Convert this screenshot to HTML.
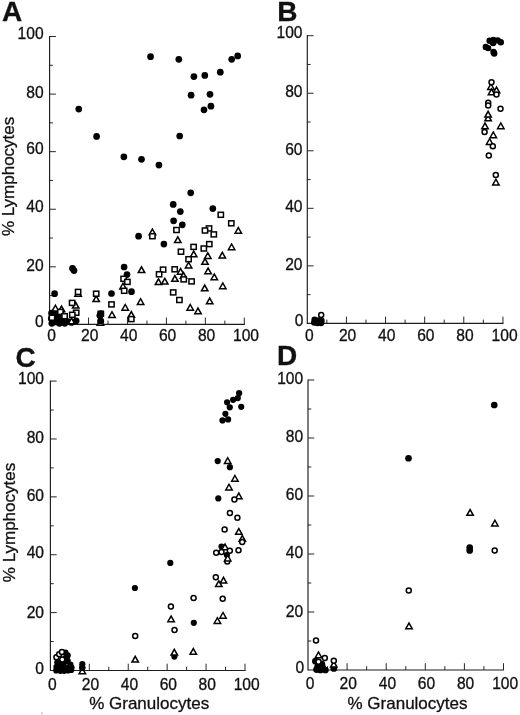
<!DOCTYPE html>
<html><head><meta charset="utf-8"><title>Figure</title>
<style>
html,body{margin:0;padding:0;background:#fff;}
svg{display:block;font-family:"Liberation Sans",sans-serif;fill:#111;}
text{stroke:#111;stroke-width:0.3px;}
</style></head><body>
<svg width="520" height="715" viewBox="0 0 520 715">
<rect width="520" height="715" fill="#fff"/>
<line x1="49.60" y1="35.92" x2="49.60" y2="324.97" stroke="#1c1c1c" stroke-width="1.15"/>
<line x1="49.60" y1="324.40" x2="244.88" y2="324.40" stroke="#1c1c1c" stroke-width="1.15"/>
<text x="43.60" y="327.30" font-size="15.6" text-anchor="end" font-weight="normal" >0</text>
<text x="51.60" y="341.40" font-size="15.6" text-anchor="middle" font-weight="normal" >0</text>
<line x1="49.60" y1="295.61" x2="52.90" y2="295.61" stroke="#1c1c1c" stroke-width="0.95"/>
<line x1="69.07" y1="324.40" x2="69.07" y2="320.60" stroke="#1c1c1c" stroke-width="0.95"/>
<line x1="49.60" y1="266.82" x2="55.90" y2="266.82" stroke="#1c1c1c" stroke-width="0.95"/>
<line x1="88.54" y1="324.40" x2="88.54" y2="317.60" stroke="#1c1c1c" stroke-width="0.95"/>
<text x="43.60" y="271.02" font-size="15.6" text-anchor="end" font-weight="normal" >20</text>
<text x="89.74" y="341.40" font-size="15.6" text-anchor="middle" font-weight="normal" >20</text>
<line x1="49.60" y1="238.03" x2="52.90" y2="238.03" stroke="#1c1c1c" stroke-width="0.95"/>
<line x1="108.01" y1="324.40" x2="108.01" y2="320.60" stroke="#1c1c1c" stroke-width="0.95"/>
<line x1="49.60" y1="209.24" x2="55.90" y2="209.24" stroke="#1c1c1c" stroke-width="0.95"/>
<line x1="127.48" y1="324.40" x2="127.48" y2="317.60" stroke="#1c1c1c" stroke-width="0.95"/>
<text x="43.60" y="212.04" font-size="15.6" text-anchor="end" font-weight="normal" >40</text>
<text x="128.68" y="341.40" font-size="15.6" text-anchor="middle" font-weight="normal" >40</text>
<line x1="49.60" y1="180.45" x2="52.90" y2="180.45" stroke="#1c1c1c" stroke-width="0.95"/>
<line x1="146.95" y1="324.40" x2="146.95" y2="320.60" stroke="#1c1c1c" stroke-width="0.95"/>
<line x1="49.60" y1="151.66" x2="55.90" y2="151.66" stroke="#1c1c1c" stroke-width="0.95"/>
<line x1="166.42" y1="324.40" x2="166.42" y2="317.60" stroke="#1c1c1c" stroke-width="0.95"/>
<text x="43.60" y="153.86" font-size="15.6" text-anchor="end" font-weight="normal" >60</text>
<text x="167.62" y="341.40" font-size="15.6" text-anchor="middle" font-weight="normal" >60</text>
<line x1="49.60" y1="122.87" x2="52.90" y2="122.87" stroke="#1c1c1c" stroke-width="0.95"/>
<line x1="185.89" y1="324.40" x2="185.89" y2="320.60" stroke="#1c1c1c" stroke-width="0.95"/>
<line x1="49.60" y1="94.08" x2="55.90" y2="94.08" stroke="#1c1c1c" stroke-width="0.95"/>
<line x1="205.36" y1="324.40" x2="205.36" y2="317.60" stroke="#1c1c1c" stroke-width="0.95"/>
<text x="43.60" y="97.88" font-size="15.6" text-anchor="end" font-weight="normal" >80</text>
<text x="206.56" y="341.40" font-size="15.6" text-anchor="middle" font-weight="normal" >80</text>
<line x1="49.60" y1="65.29" x2="52.90" y2="65.29" stroke="#1c1c1c" stroke-width="0.95"/>
<line x1="224.83" y1="324.40" x2="224.83" y2="320.60" stroke="#1c1c1c" stroke-width="0.95"/>
<line x1="49.60" y1="36.50" x2="55.90" y2="36.50" stroke="#1c1c1c" stroke-width="0.95"/>
<line x1="244.30" y1="324.40" x2="244.30" y2="317.60" stroke="#1c1c1c" stroke-width="0.95"/>
<text x="43.60" y="38.80" font-size="15.6" text-anchor="end" font-weight="normal" >100</text>
<text x="246.00" y="341.40" font-size="15.6" text-anchor="middle" font-weight="normal" >100</text>
<line x1="307.30" y1="35.12" x2="307.30" y2="323.97" stroke="#1c1c1c" stroke-width="1.15"/>
<line x1="307.30" y1="323.40" x2="503.47" y2="323.40" stroke="#1c1c1c" stroke-width="1.15"/>
<text x="303.50" y="326.10" font-size="15.6" text-anchor="end" font-weight="normal" >0</text>
<text x="309.30" y="341.00" font-size="15.6" text-anchor="middle" font-weight="normal" >0</text>
<line x1="307.30" y1="294.63" x2="310.60" y2="294.63" stroke="#1c1c1c" stroke-width="0.95"/>
<line x1="326.86" y1="323.40" x2="326.86" y2="319.60" stroke="#1c1c1c" stroke-width="0.95"/>
<line x1="307.30" y1="265.86" x2="313.60" y2="265.86" stroke="#1c1c1c" stroke-width="0.95"/>
<line x1="346.42" y1="323.40" x2="346.42" y2="316.60" stroke="#1c1c1c" stroke-width="0.95"/>
<text x="302.50" y="270.46" font-size="15.6" text-anchor="end" font-weight="normal" >20</text>
<text x="347.62" y="341.00" font-size="15.6" text-anchor="middle" font-weight="normal" >20</text>
<line x1="307.30" y1="237.09" x2="310.60" y2="237.09" stroke="#1c1c1c" stroke-width="0.95"/>
<line x1="365.98" y1="323.40" x2="365.98" y2="319.60" stroke="#1c1c1c" stroke-width="0.95"/>
<line x1="307.30" y1="208.32" x2="313.60" y2="208.32" stroke="#1c1c1c" stroke-width="0.95"/>
<line x1="385.54" y1="323.40" x2="385.54" y2="316.60" stroke="#1c1c1c" stroke-width="0.95"/>
<text x="302.50" y="212.22" font-size="15.6" text-anchor="end" font-weight="normal" >40</text>
<text x="386.74" y="341.00" font-size="15.6" text-anchor="middle" font-weight="normal" >40</text>
<line x1="307.30" y1="179.55" x2="310.60" y2="179.55" stroke="#1c1c1c" stroke-width="0.95"/>
<line x1="405.10" y1="323.40" x2="405.10" y2="319.60" stroke="#1c1c1c" stroke-width="0.95"/>
<line x1="307.30" y1="150.78" x2="313.60" y2="150.78" stroke="#1c1c1c" stroke-width="0.95"/>
<line x1="424.66" y1="323.40" x2="424.66" y2="316.60" stroke="#1c1c1c" stroke-width="0.95"/>
<text x="302.50" y="154.68" font-size="15.6" text-anchor="end" font-weight="normal" >60</text>
<text x="425.86" y="341.00" font-size="15.6" text-anchor="middle" font-weight="normal" >60</text>
<line x1="307.30" y1="122.01" x2="310.60" y2="122.01" stroke="#1c1c1c" stroke-width="0.95"/>
<line x1="444.22" y1="323.40" x2="444.22" y2="319.60" stroke="#1c1c1c" stroke-width="0.95"/>
<line x1="307.30" y1="93.24" x2="313.60" y2="93.24" stroke="#1c1c1c" stroke-width="0.95"/>
<line x1="463.78" y1="323.40" x2="463.78" y2="316.60" stroke="#1c1c1c" stroke-width="0.95"/>
<text x="302.50" y="97.44" font-size="15.6" text-anchor="end" font-weight="normal" >80</text>
<text x="464.98" y="341.00" font-size="15.6" text-anchor="middle" font-weight="normal" >80</text>
<line x1="307.30" y1="64.47" x2="310.60" y2="64.47" stroke="#1c1c1c" stroke-width="0.95"/>
<line x1="483.34" y1="323.40" x2="483.34" y2="319.60" stroke="#1c1c1c" stroke-width="0.95"/>
<line x1="307.30" y1="35.70" x2="313.60" y2="35.70" stroke="#1c1c1c" stroke-width="0.95"/>
<line x1="502.90" y1="323.40" x2="502.90" y2="316.60" stroke="#1c1c1c" stroke-width="0.95"/>
<text x="302.50" y="38.10" font-size="15.6" text-anchor="end" font-weight="normal" >100</text>
<text x="504.60" y="341.00" font-size="15.6" text-anchor="middle" font-weight="normal" >100</text>
<line x1="50.40" y1="380.53" x2="50.40" y2="671.08" stroke="#1c1c1c" stroke-width="1.15"/>
<line x1="50.40" y1="670.50" x2="245.57" y2="670.50" stroke="#1c1c1c" stroke-width="1.15"/>
<text x="44.00" y="673.90" font-size="15.6" text-anchor="end" font-weight="normal" >0</text>
<text x="52.40" y="690.00" font-size="15.6" text-anchor="middle" font-weight="normal" >0</text>
<line x1="50.40" y1="641.56" x2="53.70" y2="641.56" stroke="#1c1c1c" stroke-width="0.95"/>
<line x1="69.86" y1="670.50" x2="69.86" y2="666.70" stroke="#1c1c1c" stroke-width="0.95"/>
<line x1="50.40" y1="612.62" x2="56.70" y2="612.62" stroke="#1c1c1c" stroke-width="0.95"/>
<line x1="89.32" y1="670.50" x2="89.32" y2="663.70" stroke="#1c1c1c" stroke-width="0.95"/>
<text x="44.00" y="618.02" font-size="15.6" text-anchor="end" font-weight="normal" >20</text>
<text x="90.52" y="690.00" font-size="15.6" text-anchor="middle" font-weight="normal" >20</text>
<line x1="50.40" y1="583.68" x2="53.70" y2="583.68" stroke="#1c1c1c" stroke-width="0.95"/>
<line x1="108.78" y1="670.50" x2="108.78" y2="666.70" stroke="#1c1c1c" stroke-width="0.95"/>
<line x1="50.40" y1="554.74" x2="56.70" y2="554.74" stroke="#1c1c1c" stroke-width="0.95"/>
<line x1="128.24" y1="670.50" x2="128.24" y2="663.70" stroke="#1c1c1c" stroke-width="0.95"/>
<text x="44.00" y="558.44" font-size="15.6" text-anchor="end" font-weight="normal" >40</text>
<text x="129.44" y="690.00" font-size="15.6" text-anchor="middle" font-weight="normal" >40</text>
<line x1="50.40" y1="525.80" x2="53.70" y2="525.80" stroke="#1c1c1c" stroke-width="0.95"/>
<line x1="147.70" y1="670.50" x2="147.70" y2="666.70" stroke="#1c1c1c" stroke-width="0.95"/>
<line x1="50.40" y1="496.86" x2="56.70" y2="496.86" stroke="#1c1c1c" stroke-width="0.95"/>
<line x1="167.16" y1="670.50" x2="167.16" y2="663.70" stroke="#1c1c1c" stroke-width="0.95"/>
<text x="44.00" y="500.66" font-size="15.6" text-anchor="end" font-weight="normal" >60</text>
<text x="168.36" y="690.00" font-size="15.6" text-anchor="middle" font-weight="normal" >60</text>
<line x1="50.40" y1="467.92" x2="53.70" y2="467.92" stroke="#1c1c1c" stroke-width="0.95"/>
<line x1="186.62" y1="670.50" x2="186.62" y2="666.70" stroke="#1c1c1c" stroke-width="0.95"/>
<line x1="50.40" y1="438.98" x2="56.70" y2="438.98" stroke="#1c1c1c" stroke-width="0.95"/>
<line x1="206.08" y1="670.50" x2="206.08" y2="663.70" stroke="#1c1c1c" stroke-width="0.95"/>
<text x="44.00" y="443.18" font-size="15.6" text-anchor="end" font-weight="normal" >80</text>
<text x="207.28" y="690.00" font-size="15.6" text-anchor="middle" font-weight="normal" >80</text>
<line x1="50.40" y1="410.04" x2="53.70" y2="410.04" stroke="#1c1c1c" stroke-width="0.95"/>
<line x1="225.54" y1="670.50" x2="225.54" y2="666.70" stroke="#1c1c1c" stroke-width="0.95"/>
<line x1="50.40" y1="381.10" x2="56.70" y2="381.10" stroke="#1c1c1c" stroke-width="0.95"/>
<line x1="245.00" y1="670.50" x2="245.00" y2="663.70" stroke="#1c1c1c" stroke-width="0.95"/>
<text x="44.00" y="383.50" font-size="15.6" text-anchor="end" font-weight="normal" >100</text>
<text x="246.70" y="690.00" font-size="15.6" text-anchor="middle" font-weight="normal" >100</text>
<line x1="308.00" y1="379.43" x2="308.00" y2="670.58" stroke="#1c1c1c" stroke-width="1.15"/>
<line x1="308.00" y1="670.00" x2="504.07" y2="670.00" stroke="#1c1c1c" stroke-width="1.15"/>
<text x="304.20" y="673.20" font-size="15.6" text-anchor="end" font-weight="normal" >0</text>
<text x="310.00" y="689.40" font-size="15.6" text-anchor="middle" font-weight="normal" >0</text>
<line x1="308.00" y1="641.00" x2="311.30" y2="641.00" stroke="#1c1c1c" stroke-width="0.95"/>
<line x1="327.55" y1="670.00" x2="327.55" y2="666.20" stroke="#1c1c1c" stroke-width="0.95"/>
<line x1="308.00" y1="612.00" x2="314.30" y2="612.00" stroke="#1c1c1c" stroke-width="0.95"/>
<line x1="347.10" y1="670.00" x2="347.10" y2="663.20" stroke="#1c1c1c" stroke-width="0.95"/>
<text x="303.20" y="617.40" font-size="15.6" text-anchor="end" font-weight="normal" >20</text>
<text x="348.30" y="689.40" font-size="15.6" text-anchor="middle" font-weight="normal" >20</text>
<line x1="308.00" y1="583.00" x2="311.30" y2="583.00" stroke="#1c1c1c" stroke-width="0.95"/>
<line x1="366.65" y1="670.00" x2="366.65" y2="666.20" stroke="#1c1c1c" stroke-width="0.95"/>
<line x1="308.00" y1="554.00" x2="314.30" y2="554.00" stroke="#1c1c1c" stroke-width="0.95"/>
<line x1="386.20" y1="670.00" x2="386.20" y2="663.20" stroke="#1c1c1c" stroke-width="0.95"/>
<text x="303.20" y="557.90" font-size="15.6" text-anchor="end" font-weight="normal" >40</text>
<text x="387.40" y="689.40" font-size="15.6" text-anchor="middle" font-weight="normal" >40</text>
<line x1="308.00" y1="525.00" x2="311.30" y2="525.00" stroke="#1c1c1c" stroke-width="0.95"/>
<line x1="405.75" y1="670.00" x2="405.75" y2="666.20" stroke="#1c1c1c" stroke-width="0.95"/>
<line x1="308.00" y1="496.00" x2="314.30" y2="496.00" stroke="#1c1c1c" stroke-width="0.95"/>
<line x1="425.30" y1="670.00" x2="425.30" y2="663.20" stroke="#1c1c1c" stroke-width="0.95"/>
<text x="303.20" y="500.20" font-size="15.6" text-anchor="end" font-weight="normal" >60</text>
<text x="426.50" y="689.40" font-size="15.6" text-anchor="middle" font-weight="normal" >60</text>
<line x1="308.00" y1="467.00" x2="311.30" y2="467.00" stroke="#1c1c1c" stroke-width="0.95"/>
<line x1="444.85" y1="670.00" x2="444.85" y2="666.20" stroke="#1c1c1c" stroke-width="0.95"/>
<line x1="308.00" y1="438.00" x2="314.30" y2="438.00" stroke="#1c1c1c" stroke-width="0.95"/>
<line x1="464.40" y1="670.00" x2="464.40" y2="663.20" stroke="#1c1c1c" stroke-width="0.95"/>
<text x="303.20" y="442.30" font-size="15.6" text-anchor="end" font-weight="normal" >80</text>
<text x="465.60" y="689.40" font-size="15.6" text-anchor="middle" font-weight="normal" >80</text>
<line x1="308.00" y1="409.00" x2="311.30" y2="409.00" stroke="#1c1c1c" stroke-width="0.95"/>
<line x1="483.95" y1="670.00" x2="483.95" y2="666.20" stroke="#1c1c1c" stroke-width="0.95"/>
<line x1="308.00" y1="380.00" x2="314.30" y2="380.00" stroke="#1c1c1c" stroke-width="0.95"/>
<line x1="503.50" y1="670.00" x2="503.50" y2="663.20" stroke="#1c1c1c" stroke-width="0.95"/>
<text x="303.20" y="383.90" font-size="15.6" text-anchor="end" font-weight="normal" >100</text>
<text x="505.20" y="689.40" font-size="15.6" text-anchor="middle" font-weight="normal" >100</text>
<text x="2.00" y="21.40" font-size="28" text-anchor="start" font-weight="bold" >A</text>
<text x="277.30" y="21.00" font-size="28" text-anchor="start" font-weight="bold" >B</text>
<text x="15.40" y="366.50" font-size="28" text-anchor="start" font-weight="bold" >C</text>
<text x="277.00" y="365.20" font-size="28" text-anchor="start" font-weight="bold" >D</text>
<text transform="translate(13.8,176.4) rotate(-90)" font-size="17" text-anchor="middle">% Lymphocytes</text>
<text transform="translate(14.6,522.5) rotate(-90)" font-size="17" text-anchor="middle">% Lymphocytes</text>
<text x="149.20" y="709.30" font-size="17" text-anchor="middle" font-weight="normal" >% Granulocytes</text>
<text x="407.50" y="709.20" font-size="17" text-anchor="middle" font-weight="normal" >% Granulocytes</text>
<circle cx="78.75" cy="109.10" r="3.35" fill="#000"/>
<circle cx="150.55" cy="56.70" r="3.35" fill="#000"/>
<circle cx="178.80" cy="59.30" r="3.35" fill="#000"/>
<circle cx="231.70" cy="59.30" r="3.35" fill="#000"/>
<circle cx="237.70" cy="55.90" r="3.35" fill="#000"/>
<circle cx="220.30" cy="72.20" r="3.35" fill="#000"/>
<circle cx="193.90" cy="76.60" r="3.35" fill="#000"/>
<circle cx="204.80" cy="75.40" r="3.35" fill="#000"/>
<circle cx="191.10" cy="95.20" r="3.35" fill="#000"/>
<circle cx="210.00" cy="94.30" r="3.35" fill="#000"/>
<circle cx="210.90" cy="106.20" r="3.35" fill="#000"/>
<circle cx="204.00" cy="109.80" r="3.35" fill="#000"/>
<circle cx="96.60" cy="136.40" r="3.35" fill="#000"/>
<circle cx="123.85" cy="156.80" r="3.35" fill="#000"/>
<circle cx="141.50" cy="159.30" r="3.35" fill="#000"/>
<circle cx="158.90" cy="165.10" r="3.35" fill="#000"/>
<circle cx="179.70" cy="136.00" r="3.35" fill="#000"/>
<circle cx="190.70" cy="192.80" r="3.35" fill="#000"/>
<circle cx="173.20" cy="204.40" r="3.35" fill="#000"/>
<circle cx="72.50" cy="268.30" r="3.35" fill="#000"/>
<circle cx="74.00" cy="270.60" r="3.35" fill="#000"/>
<circle cx="173.60" cy="220.80" r="3.35" fill="#000"/>
<circle cx="138.60" cy="236.20" r="3.35" fill="#000"/>
<circle cx="163.90" cy="244.10" r="3.35" fill="#000"/>
<circle cx="124.10" cy="267.00" r="3.35" fill="#000"/>
<circle cx="127.00" cy="274.60" r="3.35" fill="#000"/>
<circle cx="180.30" cy="211.60" r="3.35" fill="#000"/>
<circle cx="182.30" cy="224.80" r="3.35" fill="#000"/>
<circle cx="212.80" cy="208.60" r="3.35" fill="#000"/>
<circle cx="54.60" cy="293.70" r="3.35" fill="#000"/>
<circle cx="111.50" cy="293.50" r="3.35" fill="#000"/>
<circle cx="131.50" cy="291.70" r="3.35" fill="#000"/>
<circle cx="100.00" cy="315.40" r="3.35" fill="#000"/>
<circle cx="100.80" cy="321.20" r="3.35" fill="#000"/>
<circle cx="76.20" cy="320.80" r="3.35" fill="#000"/>
<circle cx="51.50" cy="313.00" r="3.35" fill="#000"/>
<circle cx="51.30" cy="318.50" r="3.35" fill="#000"/>
<circle cx="51.80" cy="323.30" r="3.35" fill="#000"/>
<circle cx="55.00" cy="316.00" r="3.35" fill="#000"/>
<circle cx="55.50" cy="322.00" r="3.35" fill="#000"/>
<circle cx="58.50" cy="318.00" r="3.35" fill="#000"/>
<circle cx="59.50" cy="323.30" r="3.35" fill="#000"/>
<circle cx="62.00" cy="320.00" r="3.35" fill="#000"/>
<circle cx="64.80" cy="323.30" r="3.35" fill="#000"/>
<circle cx="57.00" cy="312.50" r="3.35" fill="#000"/>
<circle cx="61.50" cy="315.50" r="3.35" fill="#000"/>
<circle cx="68.00" cy="321.50" r="3.35" fill="#000"/>
<circle cx="71.50" cy="322.50" r="3.35" fill="#000"/>
<path d="M149.18 234.75 L155.62 234.75 L152.40 229.03 Z" fill="#fff" stroke="#000" stroke-width="1.5" stroke-linejoin="miter"/>
<path d="M138.28 272.55 L144.72 272.55 L141.50 266.83 Z" fill="#fff" stroke="#000" stroke-width="1.5" stroke-linejoin="miter"/>
<path d="M155.28 284.55 L161.72 284.55 L158.50 278.83 Z" fill="#fff" stroke="#000" stroke-width="1.5" stroke-linejoin="miter"/>
<path d="M161.58 284.05 L168.02 284.05 L164.80 278.33 Z" fill="#fff" stroke="#000" stroke-width="1.5" stroke-linejoin="miter"/>
<path d="M171.68 281.35 L178.12 281.35 L174.90 275.63 Z" fill="#fff" stroke="#000" stroke-width="1.5" stroke-linejoin="miter"/>
<path d="M174.58 242.55 L181.02 242.55 L177.80 236.83 Z" fill="#fff" stroke="#000" stroke-width="1.5" stroke-linejoin="miter"/>
<path d="M228.38 249.65 L234.82 249.65 L231.60 243.93 Z" fill="#fff" stroke="#000" stroke-width="1.5" stroke-linejoin="miter"/>
<path d="M219.08 258.05 L225.52 258.05 L222.30 252.33 Z" fill="#fff" stroke="#000" stroke-width="1.5" stroke-linejoin="miter"/>
<path d="M190.48 256.85 L196.92 256.85 L193.70 251.13 Z" fill="#fff" stroke="#000" stroke-width="1.5" stroke-linejoin="miter"/>
<path d="M204.58 258.45 L211.02 258.45 L207.80 252.73 Z" fill="#fff" stroke="#000" stroke-width="1.5" stroke-linejoin="miter"/>
<path d="M201.78 264.35 L208.22 264.35 L205.00 258.63 Z" fill="#fff" stroke="#000" stroke-width="1.5" stroke-linejoin="miter"/>
<path d="M185.38 267.95 L191.82 267.95 L188.60 262.23 Z" fill="#fff" stroke="#000" stroke-width="1.5" stroke-linejoin="miter"/>
<path d="M204.88 273.75 L211.32 273.75 L208.10 268.03 Z" fill="#fff" stroke="#000" stroke-width="1.5" stroke-linejoin="miter"/>
<path d="M177.38 274.25 L183.82 274.25 L180.60 268.53 Z" fill="#fff" stroke="#000" stroke-width="1.5" stroke-linejoin="miter"/>
<path d="M180.28 278.25 L186.72 278.25 L183.50 272.53 Z" fill="#fff" stroke="#000" stroke-width="1.5" stroke-linejoin="miter"/>
<path d="M211.08 279.75 L217.52 279.75 L214.30 274.03 Z" fill="#fff" stroke="#000" stroke-width="1.5" stroke-linejoin="miter"/>
<path d="M235.08 233.25 L241.52 233.25 L238.30 227.53 Z" fill="#fff" stroke="#000" stroke-width="1.5" stroke-linejoin="miter"/>
<path d="M219.58 288.65 L226.02 288.65 L222.80 282.93 Z" fill="#fff" stroke="#000" stroke-width="1.5" stroke-linejoin="miter"/>
<path d="M201.48 290.85 L207.92 290.85 L204.70 285.13 Z" fill="#fff" stroke="#000" stroke-width="1.5" stroke-linejoin="miter"/>
<path d="M206.48 303.85 L212.92 303.85 L209.70 298.13 Z" fill="#fff" stroke="#000" stroke-width="1.5" stroke-linejoin="miter"/>
<path d="M186.98 310.15 L193.42 310.15 L190.20 304.43 Z" fill="#fff" stroke="#000" stroke-width="1.5" stroke-linejoin="miter"/>
<path d="M194.78 313.85 L201.22 313.85 L198.00 308.13 Z" fill="#fff" stroke="#000" stroke-width="1.5" stroke-linejoin="miter"/>
<path d="M74.88 296.35 L81.32 296.35 L78.10 290.63 Z" fill="#fff" stroke="#000" stroke-width="1.5" stroke-linejoin="miter"/>
<path d="M72.48 308.05 L78.92 308.05 L75.70 302.33 Z" fill="#fff" stroke="#000" stroke-width="1.5" stroke-linejoin="miter"/>
<path d="M68.28 323.85 L74.72 323.85 L71.50 318.13 Z" fill="#fff" stroke="#000" stroke-width="1.5" stroke-linejoin="miter"/>
<path d="M52.18 310.95 L58.62 310.95 L55.40 305.23 Z" fill="#fff" stroke="#000" stroke-width="1.5" stroke-linejoin="miter"/>
<path d="M58.28 311.75 L64.72 311.75 L61.50 306.03 Z" fill="#fff" stroke="#000" stroke-width="1.5" stroke-linejoin="miter"/>
<path d="M92.98 301.55 L99.42 301.55 L96.20 295.83 Z" fill="#fff" stroke="#000" stroke-width="1.5" stroke-linejoin="miter"/>
<path d="M108.78 317.45 L115.22 317.45 L112.00 311.73 Z" fill="#fff" stroke="#000" stroke-width="1.5" stroke-linejoin="miter"/>
<path d="M97.18 325.15 L103.62 325.15 L100.40 319.43 Z" fill="#fff" stroke="#000" stroke-width="1.5" stroke-linejoin="miter"/>
<path d="M119.78 288.95 L126.22 288.95 L123.00 283.23 Z" fill="#fff" stroke="#000" stroke-width="1.5" stroke-linejoin="miter"/>
<path d="M137.38 304.45 L143.82 304.45 L140.60 298.73 Z" fill="#fff" stroke="#000" stroke-width="1.5" stroke-linejoin="miter"/>
<path d="M121.98 310.15 L128.42 310.15 L125.20 304.43 Z" fill="#fff" stroke="#000" stroke-width="1.5" stroke-linejoin="miter"/>
<path d="M128.08 317.35 L134.52 317.35 L131.30 311.63 Z" fill="#fff" stroke="#000" stroke-width="1.5" stroke-linejoin="miter"/>
<rect x="149.75" y="233.70" width="5.3" height="5" fill="#fff" stroke="#000" stroke-width="1.5"/>
<rect x="120.95" y="276.30" width="5.3" height="5" fill="#fff" stroke="#000" stroke-width="1.5"/>
<rect x="124.75" y="279.40" width="5.3" height="5" fill="#fff" stroke="#000" stroke-width="1.5"/>
<rect x="160.45" y="267.10" width="5.3" height="5" fill="#fff" stroke="#000" stroke-width="1.5"/>
<rect x="156.45" y="271.80" width="5.3" height="5" fill="#fff" stroke="#000" stroke-width="1.5"/>
<rect x="172.05" y="266.80" width="5.3" height="5" fill="#fff" stroke="#000" stroke-width="1.5"/>
<rect x="218.15" y="212.30" width="5.3" height="5" fill="#fff" stroke="#000" stroke-width="1.5"/>
<rect x="228.65" y="220.80" width="5.3" height="5" fill="#fff" stroke="#000" stroke-width="1.5"/>
<rect x="173.85" y="227.50" width="5.3" height="5" fill="#fff" stroke="#000" stroke-width="1.5"/>
<rect x="206.35" y="225.90" width="5.3" height="5" fill="#fff" stroke="#000" stroke-width="1.5"/>
<rect x="202.35" y="228.00" width="5.3" height="5" fill="#fff" stroke="#000" stroke-width="1.5"/>
<rect x="211.15" y="231.90" width="5.3" height="5" fill="#fff" stroke="#000" stroke-width="1.5"/>
<rect x="206.65" y="241.60" width="5.3" height="5" fill="#fff" stroke="#000" stroke-width="1.5"/>
<rect x="190.95" y="244.40" width="5.3" height="5" fill="#fff" stroke="#000" stroke-width="1.5"/>
<rect x="201.15" y="246.00" width="5.3" height="5" fill="#fff" stroke="#000" stroke-width="1.5"/>
<rect x="178.35" y="249.20" width="5.3" height="5" fill="#fff" stroke="#000" stroke-width="1.5"/>
<rect x="185.95" y="256.70" width="5.3" height="5" fill="#fff" stroke="#000" stroke-width="1.5"/>
<rect x="181.05" y="276.90" width="5.3" height="5" fill="#fff" stroke="#000" stroke-width="1.5"/>
<rect x="188.95" y="278.90" width="5.3" height="5" fill="#fff" stroke="#000" stroke-width="1.5"/>
<rect x="170.55" y="289.90" width="5.3" height="5" fill="#fff" stroke="#000" stroke-width="1.5"/>
<rect x="176.75" y="297.50" width="5.3" height="5" fill="#fff" stroke="#000" stroke-width="1.5"/>
<rect x="75.45" y="289.40" width="5.3" height="5" fill="#fff" stroke="#000" stroke-width="1.5"/>
<rect x="69.45" y="300.40" width="5.3" height="5" fill="#fff" stroke="#000" stroke-width="1.5"/>
<rect x="73.55" y="310.20" width="5.3" height="5" fill="#fff" stroke="#000" stroke-width="1.5"/>
<rect x="69.65" y="312.30" width="5.3" height="5" fill="#fff" stroke="#000" stroke-width="1.5"/>
<rect x="57.75" y="309.40" width="5.3" height="5" fill="#fff" stroke="#000" stroke-width="1.5"/>
<rect x="61.95" y="313.70" width="5.3" height="5" fill="#fff" stroke="#000" stroke-width="1.5"/>
<rect x="49.35" y="315.20" width="5.3" height="5" fill="#fff" stroke="#000" stroke-width="1.5"/>
<rect x="93.55" y="291.20" width="5.3" height="5" fill="#fff" stroke="#000" stroke-width="1.5"/>
<rect x="108.85" y="301.90" width="5.3" height="5" fill="#fff" stroke="#000" stroke-width="1.5"/>
<rect x="98.15" y="311.30" width="5.3" height="5" fill="#fff" stroke="#000" stroke-width="1.5"/>
<rect x="121.55" y="288.30" width="5.3" height="5" fill="#fff" stroke="#000" stroke-width="1.5"/>
<rect x="128.65" y="316.60" width="5.3" height="5" fill="#fff" stroke="#000" stroke-width="1.5"/>
<circle cx="100.00" cy="315.60" r="3.35" fill="#000"/>
<circle cx="100.80" cy="313.60" r="3.35" fill="#000"/>
<circle cx="100.60" cy="321.00" r="3.35" fill="#000"/>
<circle cx="489.60" cy="40.80" r="3.2" fill="#000"/>
<circle cx="493.50" cy="40.00" r="3.2" fill="#000"/>
<circle cx="497.70" cy="40.40" r="3.2" fill="#000"/>
<circle cx="500.80" cy="42.30" r="3.2" fill="#000"/>
<circle cx="493.10" cy="43.10" r="3.2" fill="#000"/>
<circle cx="485.80" cy="46.90" r="3.2" fill="#000"/>
<circle cx="488.10" cy="48.10" r="3.2" fill="#000"/>
<circle cx="493.50" cy="51.90" r="3.2" fill="#000"/>
<circle cx="494.20" cy="53.50" r="3.2" fill="#000"/>
<circle cx="314.60" cy="319.80" r="3.2" fill="#000"/>
<circle cx="318.50" cy="320.50" r="3.2" fill="#000"/>
<circle cx="321.50" cy="320.80" r="3.2" fill="#000"/>
<circle cx="314.20" cy="322.60" r="3.2" fill="#000"/>
<circle cx="317.50" cy="323.00" r="3.2" fill="#000"/>
<circle cx="321.00" cy="323.00" r="3.2" fill="#000"/>
<path d="M487.68 89.45 L494.12 89.45 L490.90 83.73 Z" fill="#fff" stroke="#000" stroke-width="1.5" stroke-linejoin="miter"/>
<path d="M493.28 92.85 L499.72 92.85 L496.50 87.13 Z" fill="#fff" stroke="#000" stroke-width="1.5" stroke-linejoin="miter"/>
<path d="M488.28 94.75 L494.72 94.75 L491.50 89.03 Z" fill="#fff" stroke="#000" stroke-width="1.5" stroke-linejoin="miter"/>
<path d="M484.88 120.85 L491.32 120.85 L488.10 115.13 Z" fill="#fff" stroke="#000" stroke-width="1.5" stroke-linejoin="miter"/>
<path d="M484.88 117.05 L491.32 117.05 L488.10 111.33 Z" fill="#fff" stroke="#000" stroke-width="1.5" stroke-linejoin="miter"/>
<path d="M481.78 128.75 L488.22 128.75 L485.00 123.03 Z" fill="#fff" stroke="#000" stroke-width="1.5" stroke-linejoin="miter"/>
<path d="M497.58 128.65 L504.02 128.65 L500.80 122.93 Z" fill="#fff" stroke="#000" stroke-width="1.5" stroke-linejoin="miter"/>
<path d="M490.08 137.65 L496.52 137.65 L493.30 131.93 Z" fill="#fff" stroke="#000" stroke-width="1.5" stroke-linejoin="miter"/>
<path d="M486.38 144.45 L492.82 144.45 L489.60 138.73 Z" fill="#fff" stroke="#000" stroke-width="1.5" stroke-linejoin="miter"/>
<path d="M492.68 184.95 L499.12 184.95 L495.90 179.23 Z" fill="#fff" stroke="#000" stroke-width="1.5" stroke-linejoin="miter"/>
<circle cx="491.50" cy="82.30" r="2.5" fill="#fff" stroke="#000" stroke-width="1.5"/>
<circle cx="496.50" cy="94.60" r="2.5" fill="#fff" stroke="#000" stroke-width="1.5"/>
<circle cx="488.20" cy="102.70" r="2.5" fill="#fff" stroke="#000" stroke-width="1.5"/>
<circle cx="488.20" cy="105.40" r="2.5" fill="#fff" stroke="#000" stroke-width="1.5"/>
<circle cx="500.50" cy="108.80" r="2.5" fill="#fff" stroke="#000" stroke-width="1.5"/>
<circle cx="484.60" cy="131.90" r="2.5" fill="#fff" stroke="#000" stroke-width="1.5"/>
<circle cx="492.80" cy="146.20" r="2.5" fill="#fff" stroke="#000" stroke-width="1.5"/>
<circle cx="488.80" cy="155.60" r="2.5" fill="#fff" stroke="#000" stroke-width="1.5"/>
<circle cx="495.80" cy="175.00" r="2.5" fill="#fff" stroke="#000" stroke-width="1.5"/>
<circle cx="321.20" cy="315.00" r="2.5" fill="#fff" stroke="#000" stroke-width="1.5"/>
<circle cx="239.10" cy="393.20" r="3.1" fill="#000"/>
<circle cx="237.80" cy="398.10" r="3.1" fill="#000"/>
<circle cx="233.10" cy="399.80" r="3.1" fill="#000"/>
<circle cx="227.10" cy="402.30" r="3.1" fill="#000"/>
<circle cx="229.80" cy="407.30" r="3.1" fill="#000"/>
<circle cx="241.20" cy="406.80" r="3.1" fill="#000"/>
<circle cx="225.40" cy="413.80" r="3.1" fill="#000"/>
<circle cx="222.50" cy="420.40" r="3.1" fill="#000"/>
<circle cx="228.10" cy="419.40" r="3.1" fill="#000"/>
<circle cx="217.70" cy="461.10" r="3.1" fill="#000"/>
<circle cx="229.90" cy="467.20" r="3.1" fill="#000"/>
<circle cx="218.30" cy="498.40" r="3.1" fill="#000"/>
<circle cx="221.50" cy="546.50" r="3.1" fill="#000"/>
<circle cx="226.90" cy="555.00" r="3.1" fill="#000"/>
<circle cx="170.30" cy="562.90" r="3.1" fill="#000"/>
<circle cx="134.90" cy="588.00" r="3.1" fill="#000"/>
<circle cx="193.80" cy="622.80" r="3.1" fill="#000"/>
<circle cx="174.40" cy="656.60" r="3.1" fill="#000"/>
<circle cx="65.40" cy="652.50" r="3.1" fill="#000"/>
<circle cx="67.70" cy="655.40" r="3.1" fill="#000"/>
<circle cx="57.30" cy="662.30" r="3.1" fill="#000"/>
<circle cx="60.40" cy="663.80" r="3.1" fill="#000"/>
<circle cx="64.20" cy="662.30" r="3.1" fill="#000"/>
<circle cx="67.70" cy="660.80" r="3.1" fill="#000"/>
<circle cx="70.40" cy="664.60" r="3.1" fill="#000"/>
<circle cx="71.50" cy="667.70" r="3.1" fill="#000"/>
<circle cx="56.50" cy="666.90" r="3.1" fill="#000"/>
<circle cx="59.60" cy="668.50" r="3.1" fill="#000"/>
<circle cx="63.50" cy="667.70" r="3.1" fill="#000"/>
<circle cx="67.30" cy="667.70" r="3.1" fill="#000"/>
<circle cx="56.20" cy="670.40" r="3.1" fill="#000"/>
<circle cx="60.40" cy="670.80" r="3.1" fill="#000"/>
<circle cx="64.20" cy="670.80" r="3.1" fill="#000"/>
<circle cx="68.10" cy="670.40" r="3.1" fill="#000"/>
<circle cx="71.20" cy="670.00" r="3.1" fill="#000"/>
<circle cx="65.40" cy="658.10" r="3.1" fill="#000"/>
<circle cx="82.30" cy="664.20" r="3.1" fill="#000"/>
<circle cx="82.30" cy="667.70" r="3.1" fill="#000"/>
<path d="M224.48 463.45 L230.92 463.45 L227.70 457.73 Z" fill="#fff" stroke="#000" stroke-width="1.5" stroke-linejoin="miter"/>
<path d="M231.68 481.15 L238.12 481.15 L234.90 475.43 Z" fill="#fff" stroke="#000" stroke-width="1.5" stroke-linejoin="miter"/>
<path d="M225.78 489.95 L232.22 489.95 L229.00 484.23 Z" fill="#fff" stroke="#000" stroke-width="1.5" stroke-linejoin="miter"/>
<path d="M235.58 498.75 L242.02 498.75 L238.80 493.03 Z" fill="#fff" stroke="#000" stroke-width="1.5" stroke-linejoin="miter"/>
<path d="M235.58 534.25 L242.02 534.25 L238.80 528.53 Z" fill="#fff" stroke="#000" stroke-width="1.5" stroke-linejoin="miter"/>
<path d="M239.08 541.35 L245.52 541.35 L242.30 535.63 Z" fill="#fff" stroke="#000" stroke-width="1.5" stroke-linejoin="miter"/>
<path d="M221.78 549.75 L228.22 549.75 L225.00 544.03 Z" fill="#fff" stroke="#000" stroke-width="1.5" stroke-linejoin="miter"/>
<path d="M220.28 583.05 L226.72 583.05 L223.50 577.33 Z" fill="#fff" stroke="#000" stroke-width="1.5" stroke-linejoin="miter"/>
<path d="M215.58 586.55 L222.02 586.55 L218.80 580.83 Z" fill="#fff" stroke="#000" stroke-width="1.5" stroke-linejoin="miter"/>
<path d="M219.78 618.15 L226.22 618.15 L223.00 612.43 Z" fill="#fff" stroke="#000" stroke-width="1.5" stroke-linejoin="miter"/>
<path d="M214.18 623.45 L220.62 623.45 L217.40 617.73 Z" fill="#fff" stroke="#000" stroke-width="1.5" stroke-linejoin="miter"/>
<path d="M167.88 621.75 L174.32 621.75 L171.10 616.03 Z" fill="#fff" stroke="#000" stroke-width="1.5" stroke-linejoin="miter"/>
<path d="M131.98 662.05 L138.42 662.05 L135.20 656.33 Z" fill="#fff" stroke="#000" stroke-width="1.5" stroke-linejoin="miter"/>
<path d="M171.08 655.05 L177.52 655.05 L174.30 649.33 Z" fill="#fff" stroke="#000" stroke-width="1.5" stroke-linejoin="miter"/>
<path d="M190.08 654.25 L196.52 654.25 L193.30 648.53 Z" fill="#fff" stroke="#000" stroke-width="1.5" stroke-linejoin="miter"/>
<path d="M79.08 673.75 L85.52 673.75 L82.30 668.03 Z" fill="#fff" stroke="#000" stroke-width="1.5" stroke-linejoin="miter"/>
<circle cx="234.40" cy="499.60" r="2.5" fill="#fff" stroke="#000" stroke-width="1.5"/>
<circle cx="229.90" cy="512.90" r="2.5" fill="#fff" stroke="#000" stroke-width="1.5"/>
<circle cx="237.40" cy="517.70" r="2.5" fill="#fff" stroke="#000" stroke-width="1.5"/>
<circle cx="224.60" cy="529.60" r="2.5" fill="#fff" stroke="#000" stroke-width="1.5"/>
<circle cx="242.20" cy="541.90" r="2.5" fill="#fff" stroke="#000" stroke-width="1.5"/>
<circle cx="238.50" cy="550.20" r="2.5" fill="#fff" stroke="#000" stroke-width="1.5"/>
<circle cx="216.20" cy="552.70" r="2.5" fill="#fff" stroke="#000" stroke-width="1.5"/>
<circle cx="221.50" cy="552.10" r="2.5" fill="#fff" stroke="#000" stroke-width="1.5"/>
<circle cx="229.80" cy="550.80" r="2.5" fill="#fff" stroke="#000" stroke-width="1.5"/>
<circle cx="227.30" cy="561.50" r="2.5" fill="#fff" stroke="#000" stroke-width="1.5"/>
<circle cx="215.80" cy="577.30" r="2.5" fill="#fff" stroke="#000" stroke-width="1.5"/>
<circle cx="222.70" cy="598.70" r="2.5" fill="#fff" stroke="#000" stroke-width="1.5"/>
<circle cx="193.60" cy="598.10" r="2.5" fill="#fff" stroke="#000" stroke-width="1.5"/>
<circle cx="170.90" cy="606.50" r="2.5" fill="#fff" stroke="#000" stroke-width="1.5"/>
<circle cx="174.50" cy="629.90" r="2.5" fill="#fff" stroke="#000" stroke-width="1.5"/>
<circle cx="135.20" cy="636.00" r="2.5" fill="#fff" stroke="#000" stroke-width="1.5"/>
<circle cx="56.40" cy="657.30" r="2.5" fill="#fff" stroke="#000" stroke-width="1.5"/>
<circle cx="59.20" cy="654.20" r="2.5" fill="#fff" stroke="#000" stroke-width="1.5"/>
<circle cx="61.90" cy="651.90" r="2.5" fill="#fff" stroke="#000" stroke-width="1.5"/>
<circle cx="62.30" cy="659.60" r="2.5" fill="#fff" stroke="#000" stroke-width="1.5"/>
<path d="M224.48 560.95 L230.92 560.95 L227.70 555.23 Z" fill="#fff" stroke="#000" stroke-width="1.5" stroke-linejoin="miter"/>
<circle cx="82.30" cy="667.90" r="3.1" fill="#000"/>
<circle cx="494.25" cy="405.00" r="3.35" fill="#000"/>
<circle cx="408.50" cy="458.25" r="3.35" fill="#000"/>
<circle cx="469.70" cy="547.60" r="3.35" fill="#000"/>
<circle cx="469.70" cy="550.50" r="3.35" fill="#000"/>
<circle cx="315.40" cy="661.20" r="3.35" fill="#000"/>
<circle cx="321.90" cy="664.20" r="3.35" fill="#000"/>
<circle cx="317.70" cy="666.50" r="3.35" fill="#000"/>
<circle cx="323.10" cy="668.10" r="3.35" fill="#000"/>
<circle cx="316.50" cy="669.60" r="3.35" fill="#000"/>
<circle cx="320.40" cy="670.00" r="3.35" fill="#000"/>
<circle cx="325.40" cy="670.00" r="3.35" fill="#000"/>
<circle cx="333.80" cy="668.50" r="3.35" fill="#000"/>
<path d="M466.88 515.35 L473.32 515.35 L470.10 509.63 Z" fill="#fff" stroke="#000" stroke-width="1.5" stroke-linejoin="miter"/>
<path d="M491.68 525.95 L498.12 525.95 L494.90 520.23 Z" fill="#fff" stroke="#000" stroke-width="1.5" stroke-linejoin="miter"/>
<path d="M405.78 628.75 L412.22 628.75 L409.00 623.03 Z" fill="#fff" stroke="#000" stroke-width="1.5" stroke-linejoin="miter"/>
<path d="M315.28 657.65 L321.72 657.65 L318.50 651.93 Z" fill="#fff" stroke="#000" stroke-width="1.5" stroke-linejoin="miter"/>
<path d="M330.58 667.05 L337.02 667.05 L333.80 661.33 Z" fill="#fff" stroke="#000" stroke-width="1.5" stroke-linejoin="miter"/>
<circle cx="494.70" cy="550.50" r="2.5" fill="#fff" stroke="#000" stroke-width="1.5"/>
<circle cx="408.75" cy="590.60" r="2.5" fill="#fff" stroke="#000" stroke-width="1.5"/>
<circle cx="316.00" cy="640.40" r="2.5" fill="#fff" stroke="#000" stroke-width="1.5"/>
<circle cx="324.80" cy="658.10" r="2.5" fill="#fff" stroke="#000" stroke-width="1.5"/>
<circle cx="318.50" cy="661.80" r="2.5" fill="#fff" stroke="#000" stroke-width="1.5"/>
<circle cx="333.80" cy="660.80" r="2.5" fill="#fff" stroke="#000" stroke-width="1.5"/>
<rect x="41.2" y="712" width="1.6" height="3" fill="#d4d4d4"/>
</svg>
</body></html>
